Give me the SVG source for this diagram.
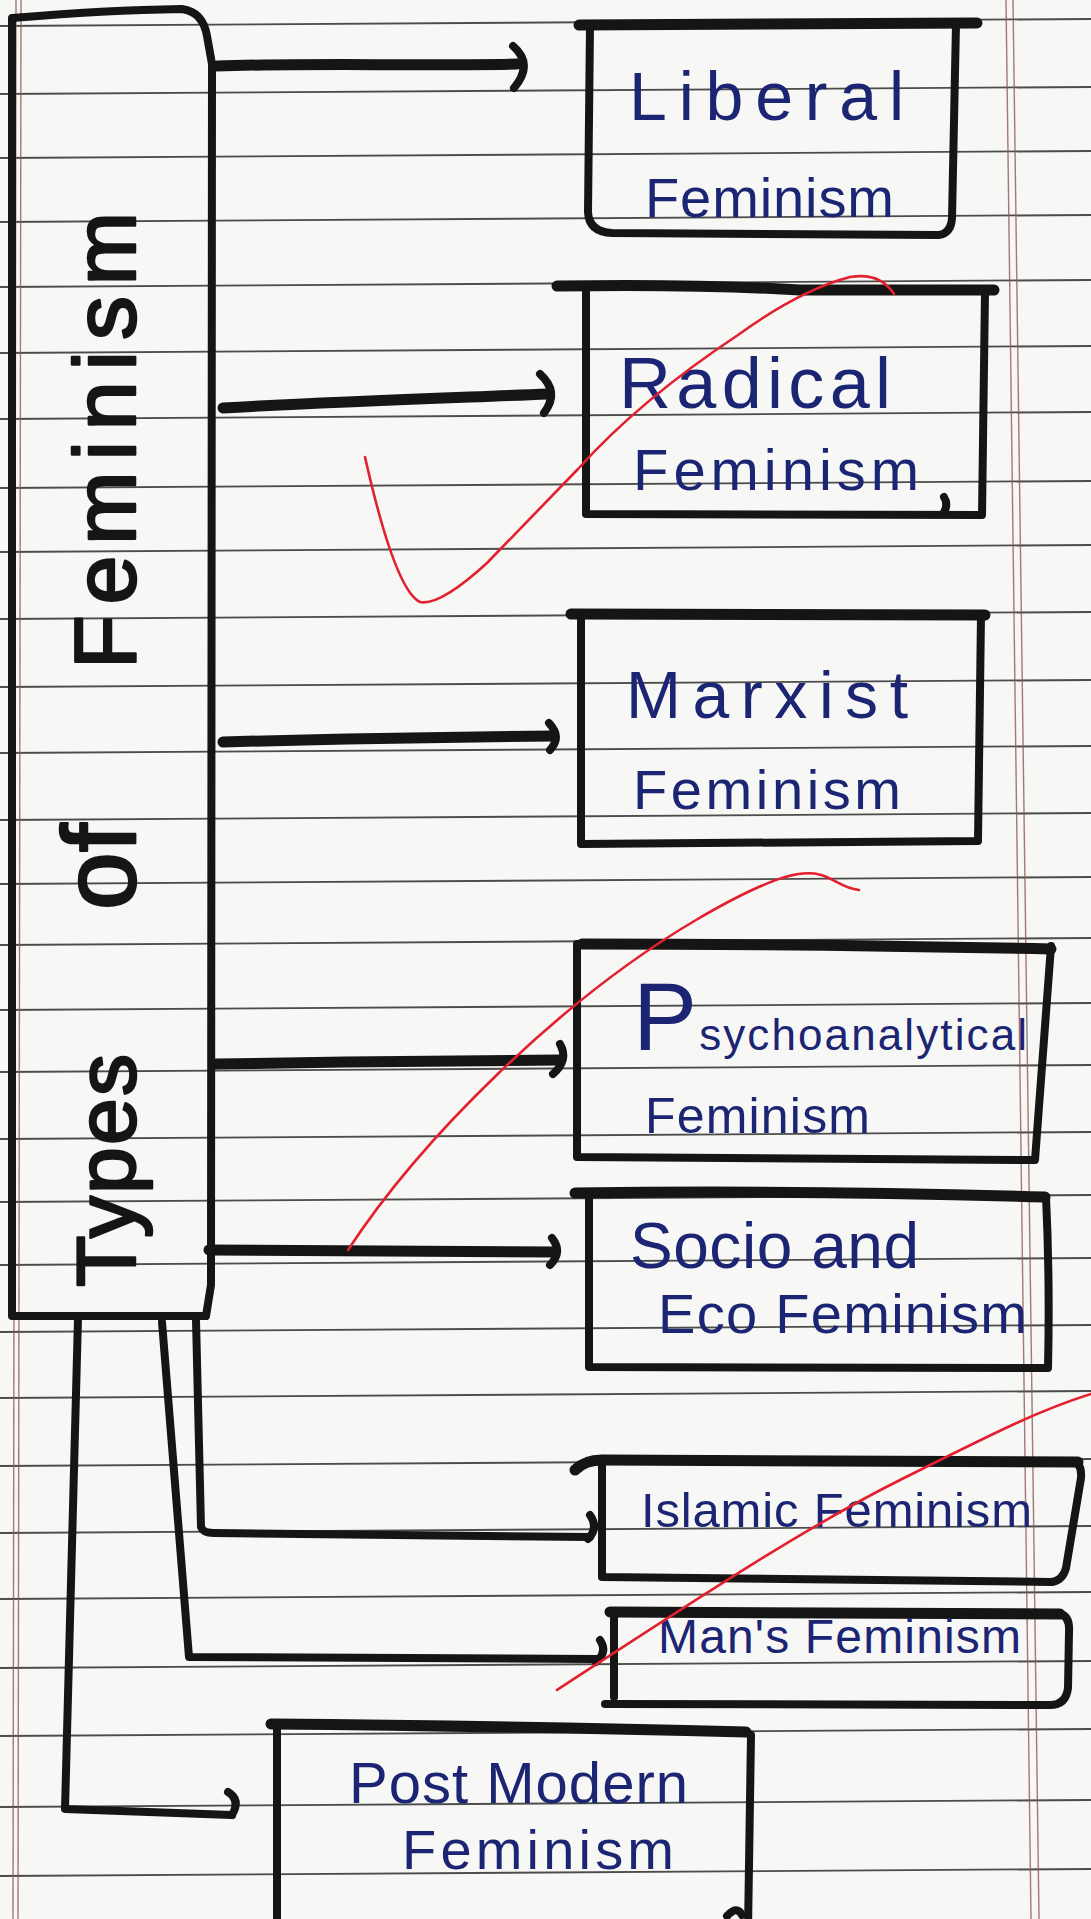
<svg xmlns="http://www.w3.org/2000/svg" width="1091" height="1919" viewBox="0 0 1091 1919">
<defs>
<style>
.paper{fill:#f7f7f5}
.rule{stroke:#2e2e2e;stroke-width:1.8;fill:none;opacity:0.85}
.margin{stroke:#8c5a52;stroke-width:1.4;fill:none;opacity:0.8}
.ink{fill:none;stroke:#151515;stroke-width:8;stroke-linecap:round;stroke-linejoin:round}
.thick{stroke-width:11}
.shaft{fill:none;stroke:#151515;stroke-width:11;stroke-linecap:round;stroke-linejoin:round}
.head{fill:none;stroke:#151515;stroke-width:8;stroke-linecap:round}
.lbl{font-family:"Liberation Sans","DejaVu Sans",sans-serif;fill:#1c2573}
.title{font-family:"Liberation Sans","DejaVu Sans",sans-serif;fill:#151515;stroke:#151515;stroke-width:2.5;stroke-linejoin:round}
.red{fill:none;stroke:#e3202e;stroke-width:2.6;stroke-linecap:round}
</style>
</defs>
<rect class="paper" x="0" y="0" width="1091" height="1919"/>
<g id="paper-lines">
<path class="rule" d="M0,26 L1091,19"/>
<path class="rule" d="M0,94 L1091,87"/>
<path class="rule" d="M0,158 L1091,151"/>
<path class="rule" d="M0,222 L1091,215"/>
<path class="rule" d="M0,287 L1091,280"/>
<path class="rule" d="M0,353 L1091,346"/>
<path class="rule" d="M0,419 L1091,412"/>
<path class="rule" d="M0,488 L1091,481"/>
<path class="rule" d="M0,552 L1091,545"/>
<path class="rule" d="M0,619 L1091,612"/>
<path class="rule" d="M0,687 L1091,680"/>
<path class="rule" d="M0,753 L1091,746"/>
<path class="rule" d="M0,820 L1091,813"/>
<path class="rule" d="M0,884 L1091,877"/>
<path class="rule" d="M0,945 L1091,938"/>
<path class="rule" d="M0,1010 L1091,1003"/>
<path class="rule" d="M0,1072 L1091,1065"/>
<path class="rule" d="M0,1139 L1091,1132"/>
<path class="rule" d="M0,1202 L1091,1195"/>
<path class="rule" d="M0,1265 L1091,1258"/>
<path class="rule" d="M0,1332 L1091,1325"/>
<path class="rule" d="M0,1398 L1091,1391"/>
<path class="rule" d="M0,1466 L1091,1459"/>
<path class="rule" d="M0,1533 L1091,1526"/>
<path class="rule" d="M0,1599 L1091,1592"/>
<path class="rule" d="M0,1668 L1091,1661"/>
<path class="rule" d="M0,1736 L1091,1729"/>
<path class="rule" d="M0,1807 L1091,1800"/>
<path class="rule" d="M0,1876 L1091,1869"/>
<path class="margin" d="M1006,0 L1031,1919"/>
<path class="margin" d="M1013,0 L1039,1919"/>
<path class="margin" d="M16,0 L13,1919"/>
<path class="margin" d="M21,0 L18,1919"/>
</g>
<g id="connectors">
<path class="shaft" d="M217,66 C300,63 420,66 517,64"/>
<path class="head" d="M513,46 Q534,64 514,88"/>
<path class="shaft" d="M223,408 C330,402 450,398 548,394"/>
<path class="head" d="M540,374 Q560,392 544,413"/>
<path class="shaft" d="M223,742 C330,739 450,737 553,736"/>
<path class="head" d="M549,723 Q562,737 550,750"/>
<path class="shaft" d="M216,1064 C330,1062 450,1061 560,1060"/>
<path class="head" d="M560,1044 Q569,1060 553,1074"/>
<path class="shaft" d="M209,1250 C330,1251 450,1252 555,1252"/>
<path class="head" d="M552,1238 Q563,1252 550,1265"/>
<path class="ink" d="M196,1320 L201,1527 Q203,1533 214,1533 L590,1537"/>
<path class="head" d="M590,1515 Q599,1528 588,1539"/>
<path class="ink" d="M162,1322 L189,1657 L598,1659"/>
<path class="head" d="M600,1640 Q608,1652 596,1662"/>
<path class="ink" d="M78,1318 L65,1809 L232,1815"/>
<path class="head" d="M228,1792 Q241,1800 232,1815"/>
</g>
<g id="node-types">
<path class="ink" d="M12,18 C60,14 120,10 182,9 Q203,12 207,36 L212,64 L211,1285 L206,1316 L12,1316 Z"/>
<text class="title" transform="translate(135,0) rotate(-90)" x="-1287" y="0" font-size="84" textLength="233" lengthAdjust="spacing">Types</text>
<text class="title" transform="translate(135,0) rotate(-90)" x="-910" y="0" font-size="104">of</text>
<text class="title" transform="translate(135,0) rotate(-90)" x="-669" y="0" font-size="88" textLength="457" lengthAdjust="spacing">Feminism</text>
</g>
<g id="node-liberal">
<path class="ink thick" d="M579,25 L977,23"/>
<path class="ink" d="M590,26 L588,212 Q589,232 612,233 L938,235 Q951,234 952,218 L956,24"/>
<text class="lbl" x="629" y="120" font-size="68" textLength="275" lengthAdjust="spacing">Liberal</text>
<text class="lbl" x="645" y="217" font-size="56" textLength="249" lengthAdjust="spacing">Feminism</text>
</g>
<g id="node-radical">
<path class="ink thick" d="M557,286 Q700,284 800,290 L994,290"/>
<path class="ink" d="M586,292 L586,514 L982,515 L985,292"/>
<path class="ink" d="M943,514 Q949,505 944,497"/>
<text class="lbl" x="619" y="408" font-size="72" textLength="272" lengthAdjust="spacing">Radical</text>
<text class="lbl" x="633" y="490" font-size="58" textLength="286" lengthAdjust="spacing">Feminism</text>
</g>
<g id="node-marxist">
<path class="ink thick" d="M571,614 L985,615"/>
<path class="ink" d="M581,615 L581,844 L978,841 L981,615"/>
<text class="lbl" x="626" y="718" font-size="66" textLength="282" lengthAdjust="spacing">Marxist</text>
<text class="lbl" x="633" y="809" font-size="56" textLength="268" lengthAdjust="spacing">Feminism</text>
</g>
<g id="node-psycho">
<path class="ink thick" d="M582,944 Q800,944 1051,949"/>
<path class="ink" d="M577,944 L577,1157 L1035,1160 L1051,946"/>
<text class="lbl" x="633" y="1050" font-size="44" textLength="394" lengthAdjust="spacing"><tspan font-size="96">P</tspan>sychoanalytical</text>
<text class="lbl" x="645" y="1133" font-size="50" textLength="225" lengthAdjust="spacing">Feminism</text>
</g>
<g id="node-socio">
<path class="ink thick" d="M575,1193 Q800,1190 1045,1197"/>
<path class="ink" d="M589,1197 L589,1367 L1048,1368 Q1050,1280 1046,1197"/>
<text class="lbl" x="630" y="1268" font-size="64" textLength="289" lengthAdjust="spacing">Socio and</text>
<text class="lbl" x="658" y="1333" font-size="56" textLength="369" lengthAdjust="spacing">Eco Feminism</text>
</g>
<g id="node-islamic">
<path class="ink thick" d="M575,1470 Q585,1460 602,1460 L1078,1462"/>
<path class="ink" d="M602,1462 L602,1577 L1052,1582 Q1063,1580 1066,1568 L1081,1478 Q1082,1464 1074,1462"/>
<text class="lbl" x="641" y="1527" font-size="49" textLength="391" lengthAdjust="spacing">Islamic Feminism</text>
</g>
<g id="node-mans">
<path class="ink thick" d="M610,1612 L1060,1614"/>
<path class="ink" d="M614,1614 L614,1697"/>
<path class="ink" d="M1060,1614 Q1070,1616 1069,1632 L1068,1688 Q1066,1705 1050,1705 L605,1704"/>
<text class="lbl" x="658" y="1653" font-size="48" textLength="363" lengthAdjust="spacing">Man's Feminism</text>
</g>
<g id="node-postmodern">
<path class="ink thick" d="M271,1724 Q500,1726 746,1732"/>
<path class="ink" d="M277,1726 L277,1930"/>
<path class="ink" d="M751,1735 L748,1930"/>
<path class="ink" d="M727,1916 Q737,1905 742,1915"/>
<text class="lbl" x="349" y="1803" font-size="58" textLength="339" lengthAdjust="spacing">Post Modern</text>
<text class="lbl" x="402" y="1869" font-size="56" textLength="272" lengthAdjust="spacing">Feminism</text>
</g>
<g id="marks">
<path class="red" d="M365,457 Q395,590 420,602 Q440,606 487,563 L578,469 Q640,400 738,335 Q800,290 850,277 Q880,272 894,294"/>
<path class="red" d="M348,1250 C420,1140 560,1000 696,920 S820,886 859,890"/>
<path class="red" d="M557,1690 C680,1610 800,1530 900,1480 S1040,1410 1091,1394"/>
</g>
</svg>
